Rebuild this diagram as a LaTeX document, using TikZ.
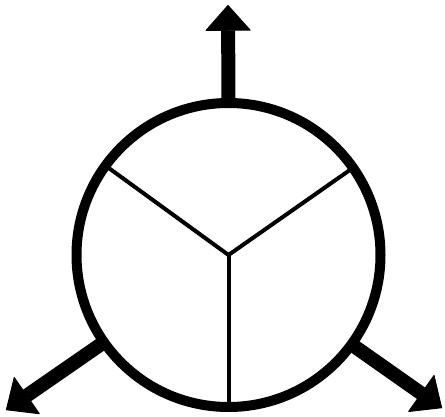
\documentclass[tikz,border=0pt]{standalone}
\usetikzlibrary{arrows.meta}
\begin{document}
\begin{tikzpicture}[x=1pt,y=-1pt,
  ring/.style={circle,draw=black,line width=10pt,minimum size=304pt,inner sep=0pt,outer sep=0pt},
  divider/.style={draw=black,line width=4pt},
  bigarrow/.style={draw=black,line width=14pt,
    -{Triangle[length=26pt,width=46pt,line width=1pt,round]}}]
\useasboundingbox (0,0) rectangle (445,417);
\coordinate (tu) at (228,5);
\coordinate (tl) at (6,410);
\coordinate (tr) at (442,408);
\node[ring,draw=none] (c) at (228.5,255) {};
\draw[divider] (c.center) -- (c.35.5);
\draw[divider] (c.center) -- (c.144.5);
\draw[divider] (c.center) -- (c.270);
\draw[bigarrow] (c.90) -- (tu);
\draw[bigarrow] (c.215) -- (tl);
\draw[bigarrow] (c.324) -- (tr);
\node[ring] (rim) at (c.center) {};
\end{tikzpicture}
\end{document}
